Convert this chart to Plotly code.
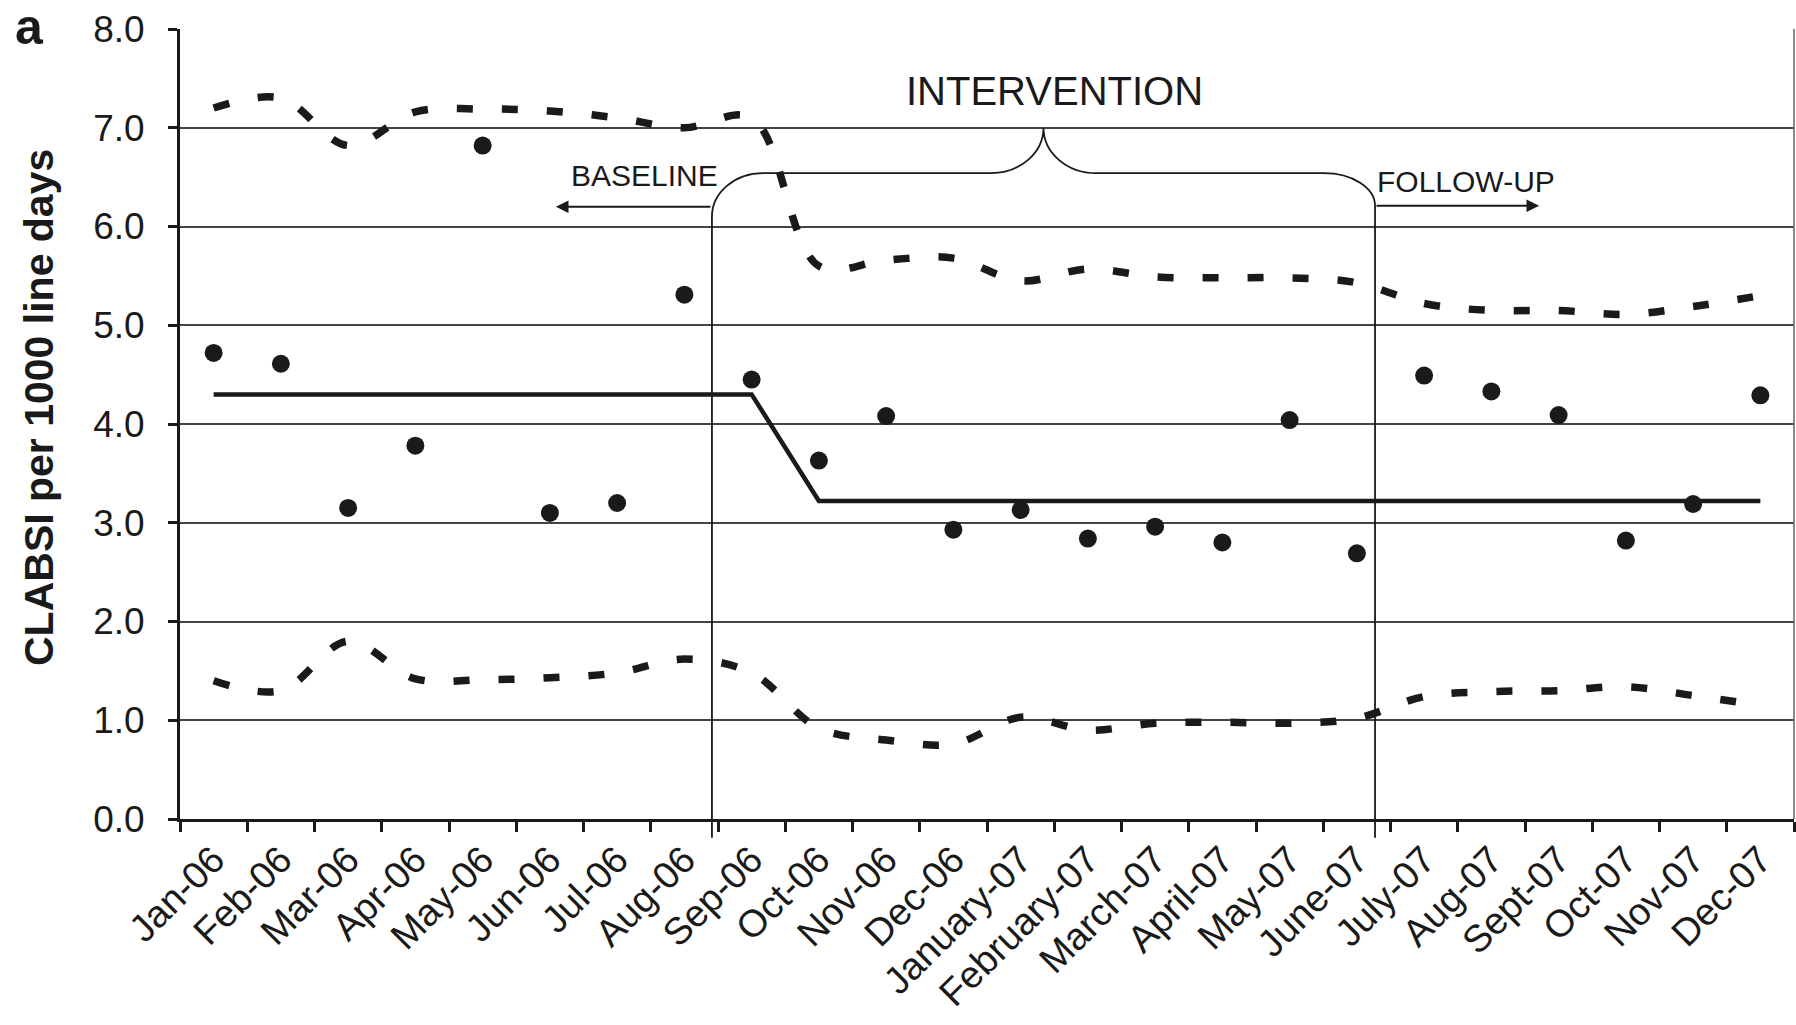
import plotly.graph_objects as go

months = ["Jan-06", "Feb-06", "Mar-06", "Apr-06", "May-06", "Jun-06", "Jul-06", "Aug-06",
          "Sep-06", "Oct-06", "Nov-06", "Dec-06", "January-07", "February-07", "March-07",
          "April-07", "May-07", "June-07", "July-07", "Aug-07", "Sept-07", "Oct-07", "Nov-07", "Dec-07"]

clabsi_rate = [4.72, 4.61, 3.15, 3.78, 6.82, 3.10, 3.20, 5.31, 4.45, 3.63, 4.08, 2.93,
               3.13, 2.84, 2.96, 2.80, 4.04, 2.69, 4.49, 4.33, 4.09, 2.82, 3.19, 4.29]

center_line = [4.30, 4.30, 4.30, 4.30, 4.30, 4.30, 4.30, 4.30, 4.30, 3.22, 3.22, 3.22,
               3.22, 3.22, 3.22, 3.22, 3.22, 3.22, 3.22, 3.22, 3.22, 3.22, 3.22, 3.22]

upper_limit = [7.20, 7.30, 6.82, 7.16, 7.19, 7.17, 7.10, 7.00, 7.10, 5.60, 5.66, 5.68,
               5.45, 5.57, 5.49, 5.48, 5.48, 5.43, 5.22, 5.15, 5.15, 5.11, 5.19, 5.30]

lower_limit = [1.40, 1.30, 1.80, 1.42, 1.41, 1.43, 1.48, 1.62, 1.48, 0.92, 0.80, 0.76,
               1.03, 0.90, 0.97, 0.98, 0.97, 1.02, 1.24, 1.29, 1.30, 1.34, 1.25, 1.15]

y_ticks = [0, 1, 2, 3, 4, 5, 6, 7, 8]

x_idx = list(range(len(months)))
XMIN, XMAX = -0.5, len(months) - 0.5
YMIN, YMAX = 0.0, 8.0

FONT = "Arial, 'Liberation Sans', Helvetica, sans-serif"
INK = "#1a1a1a"


def px(v):
    return (v - XMIN) / (XMAX - XMIN)


def py(v):
    return (v - YMIN) / (YMAX - YMIN)


fig = go.Figure()

for series in (upper_limit, lower_limit):
    fig.add_trace(go.Scatter(
        x=x_idx, y=series, mode="lines",
        line=dict(color=INK, width=7.5, dash="16px,29px", shape="spline", smoothing=1.0),
        hoverinfo="skip", showlegend=False))

fig.add_trace(go.Scatter(
    x=x_idx, y=center_line, mode="lines",
    line=dict(color=INK, width=4.5), showlegend=False))

fig.add_trace(go.Scatter(
    x=x_idx, y=clabsi_rate, mode="markers",
    marker=dict(color=INK, size=18), showlegend=False))

# phase bracket geometry (data units)
k = 0.5523
xl, xr = 7.41, 17.27          # phase boundary lines
yb = -0.19                    # bottom of boundary lines
yh = 6.54                     # bracket horizontal level
yl_top, yr_top = 6.10, 6.21   # where vertical lines begin to curve
xl_end, xr_start = 8.17, 16.51
xt, yt = 12.34, 7.00          # brace tip
xbl, xbr = 11.56, 13.12

def P(x, y):
    return f"{px(x):.5f},{py(y):.5f}"

path = (
    f"M {P(xl, yb)} L {P(xl, yl_top)} "
    f"C {P(xl, yl_top + k*(yh-yl_top))} {P(xl_end - k*(xl_end-xl), yh)} {P(xl_end, yh)} "
    f"L {P(xbl, yh)} "
    f"C {P(xbl + k*(xt-xbl), yh)} {P(xt, yt - k*(yt-yh))} {P(xt, yt)} "
    f"C {P(xt, yt - k*(yt-yh))} {P(xbr - k*(xbr-xt), yh)} {P(xbr, yh)} "
    f"L {P(xr_start, yh)} "
    f"C {P(xr_start + k*(xr-xr_start), yh)} {P(xr, yr_top + k*(yh-yr_top))} {P(xr, yr_top)} "
    f"L {P(xr, yb)}"
)

shapes = [
    dict(type="path", path=path, xref="paper", yref="paper",
         line=dict(color=INK, width=1.8), layer="above"),
    dict(type="line", xref="paper", yref="paper", x0=1, x1=1, y0=0, y1=1,
         line=dict(color="#666", width=1.5)),
]

annotations = [
    dict(x=5.09, y=6.20, ax=xl, ay=6.20,
         xref="x", yref="y", axref="x", ayref="y",
         text="", showarrow=True, arrowhead=2, arrowsize=1.4, arrowwidth=1.8, arrowcolor=INK),
    dict(x=19.71, y=6.21, ax=xr, ay=6.21,
         xref="x", yref="y", axref="x", ayref="y",
         text="", showarrow=True, arrowhead=2, arrowsize=1.4, arrowwidth=1.8, arrowcolor=INK),
    dict(x=6.40, y=6.52, xref="x", yref="y", text="BASELINE", showarrow=False,
         font=dict(family=FONT, size=30, color=INK), xanchor="center", yanchor="middle"),
    dict(x=18.62, y=6.46, xref="x", yref="y", text="FOLLOW-UP", showarrow=False,
         font=dict(family=FONT, size=30, color=INK), xanchor="center", yanchor="middle"),
    dict(x=12.50, y=7.37, xref="x", yref="y", text="INTERVENTION", showarrow=False,
         font=dict(family=FONT, size=40, color=INK), xanchor="center", yanchor="middle"),
    dict(x=-0.0875, y=py(4.17), xref="paper", yref="paper", text="<b>CLABSI per 1000 line days</b>",
         showarrow=False, textangle=-90, font=dict(family=FONT, size=41, color=INK),
         xanchor="center", yanchor="middle"),
    dict(x=-0.0932, y=1.002, xref="paper", yref="paper", text="<b>a</b>", showarrow=False,
         font=dict(family=FONT, size=50, color=INK), xanchor="center", yanchor="middle"),
]

fig.update_layout(
    width=1796, height=1025,
    margin=dict(l=180, r=2, t=29, b=206),
    paper_bgcolor="white", plot_bgcolor="white",
    shapes=shapes, annotations=annotations,
    font=dict(family=FONT, color=INK),
)

fig.update_xaxes(
    range=[XMIN, XMAX], tickmode="array", tickvals=x_idx, ticktext=months,
    tickangle=-45, ticks="", tickfont=dict(family=FONT, size=38, color=INK),
    showgrid=False, zeroline=False, showline=True, linecolor=INK, linewidth=3,
    minor=dict(tickmode="array", tickvals=[i - 0.5 for i in range(len(months) + 1)],
               ticks="outside", ticklen=10, tickwidth=2.5, tickcolor=INK, showgrid=False),
    fixedrange=True,
)

fig.update_yaxes(
    range=[YMIN, YMAX], tickmode="array", tickvals=y_ticks, tickformat=".1f",
    ticks="outside", ticklen=9, tickwidth=2.5, tickcolor=INK,
    tickfont=dict(family=FONT, size=37, color=INK), ticklabelstandoff=16,
    showgrid=True, gridcolor="#444", gridwidth=2, zeroline=False,
    showline=True, linecolor=INK, linewidth=3, fixedrange=True,
)

fig.write_html("out.html")
